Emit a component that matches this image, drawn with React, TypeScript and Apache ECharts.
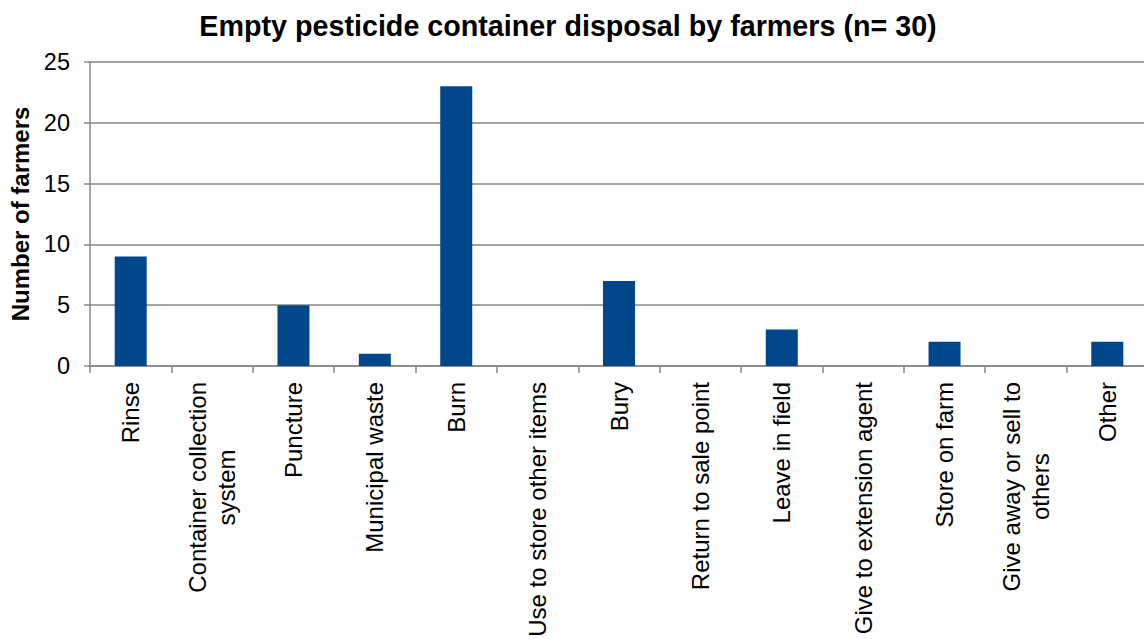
import React, { useEffect, useRef } from "react";
import * as echarts from "echarts";

const categories: string[] = [
  "Rinse",
  "Container collection\nsystem",
  "Puncture",
  "Municipal waste",
  "Burn",
  "Use to store other items",
  "Bury",
  "Return to sale point",
  "Leave in field",
  "Give to extension agent",
  "Store on farm",
  "Give away or sell to\nothers",
  "Other",
];

const farmers: number[] = [9, 0, 5, 1, 23, 0, 7, 0, 3, 0, 2, 0, 2];

const yTicks = { min: 0, max: 25, interval: 5 };

const FONT = "'Liberation Sans', Arial, Helvetica, sans-serif";

export default function App() {
  const ref = useRef<HTMLDivElement>(null);

  useEffect(() => {
    document.body.style.margin = "0";
    if (!ref.current) return;
    const chart = echarts.init(ref.current, undefined, { renderer: "svg" });
    chart.setOption({
      animation: false,
      backgroundColor: "#ffffff",
      title: {
        text: "Empty pesticide container disposal by farmers (n= 30)",
        left: 563,
        textAlign: "center",
        top: 6,
        textStyle: {
          fontFamily: FONT,
          fontSize: 28.7,
          fontWeight: "bold",
          color: "#000",
        },
      },
      // the plot runs slightly past the right edge of the canvas
      grid: {
        left: 90,
        right: -4,
        top: 62,
        bottom: 273,
        containLabel: false,
        outerBoundsMode: "none",
      },
      xAxis: {
        type: "category",
        data: categories,
        axisLine: { show: true, lineStyle: { color: "#868686", width: 1.5 } },
        axisTick: { show: true, length: 7, alignWithLabel: false, lineStyle: { color: "#868686", width: 1.5 } },
        axisLabel: {
          interval: 0,
          rotate: 90,
          margin: 16,
          fontFamily: FONT,
          fontSize: 24,
          color: "#000",
          formatter: (v: string) =>
            v
              .split("\n")
              .map((s) => `{c|${s}}`)
              .join("\n"),
          rich: {
            c: {
              align: "center",
              fontFamily: FONT,
              fontSize: 24,
              lineHeight: 29,
              color: "#000",
            },
          },
        },
      },
      yAxis: {
        type: "value",
        min: yTicks.min,
        max: yTicks.max,
        interval: yTicks.interval,
        name: "Number of farmers",
        nameLocation: "middle",
        nameGap: 55,
        nameTextStyle: {
          fontFamily: FONT,
          fontSize: 24,
          fontWeight: "bold",
          color: "#000",
        },
        axisLine: { show: true, lineStyle: { color: "#868686", width: 1.5 } },
        axisTick: { show: true, length: 6, lineStyle: { color: "#868686", width: 1.5 } },
        axisLabel: {
          margin: 20,
          fontFamily: FONT,
          fontSize: 23.5,
          color: "#000",
        },
        splitLine: { show: true, lineStyle: { color: "#868686", width: 1.5 } },
      },
      series: [
        {
          type: "bar",
          data: farmers,
          barWidth: 32,
          itemStyle: { color: "#00468b" },
        },
      ],
    });
    return () => chart.dispose();
  }, []);

  return <div ref={ref} style={{ width: 1144, height: 639 }} />;
}
